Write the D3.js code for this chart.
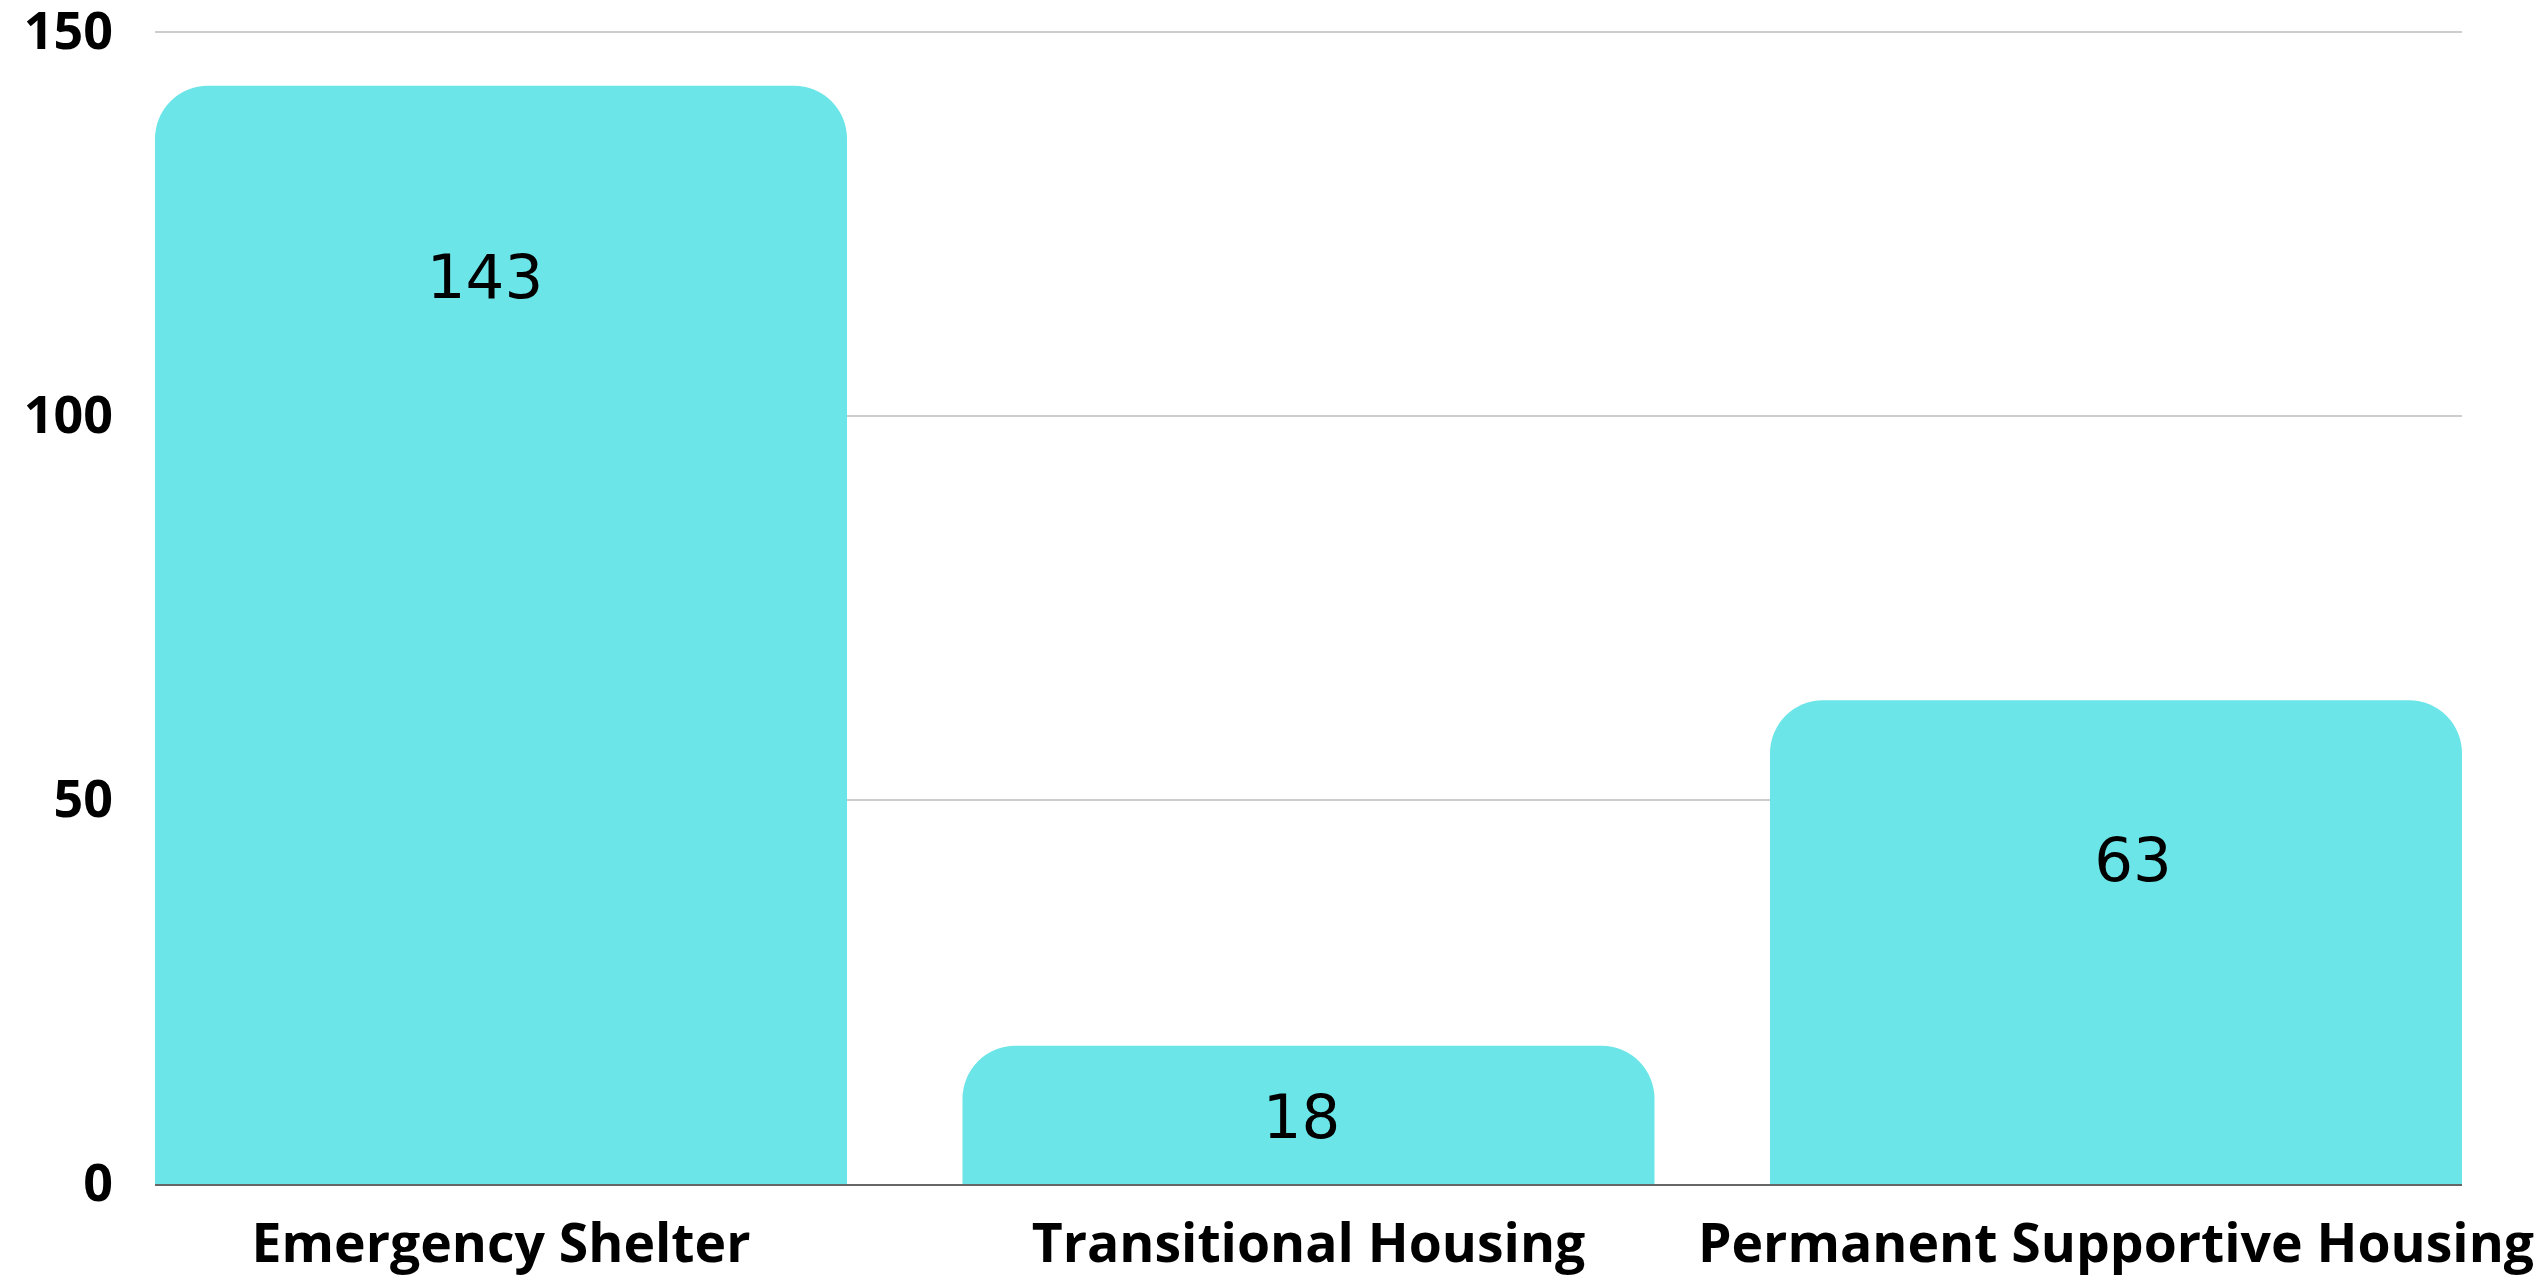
<!DOCTYPE html>
<html>
<head>
<meta charset="utf-8">
<script src="https://cdn.jsdelivr.net/npm/d3@7"></script>
<style>
  body { margin: 0; background: #fff; }
</style>
</head>
<body>
<div id="chart"></div>
<script>
// Chart data
const categories = ["Emergency Shelter", "Transitional Housing", "Permanent Supportive Housing"];
const counts = [143, 18, 63];
const yTicks = [0, 50, 100, 150];

const width = 2546,
      height = 1278;

const margin = { top: 32, right: 84, bottom: 94, left: 155 };

const svg = d3.select("#chart")
  .append("svg")
  .attr("width", width)
  .attr("height", height)
  .style("background", "#fff");

const x = d3.scaleBand()
  .domain(categories)
  .range([margin.left, width - margin.right])
  .paddingInner(0.143)
  .paddingOuter(0);

const y = d3.scaleLinear()
  .domain([0, 150])
  .range([height - margin.bottom, margin.top]);

// Gridlines (drawn first, bars cover them)
svg.append("g")
  .selectAll("line")
  .data(yTicks.filter(t => t > 0))
  .enter()
  .append("line")
  .attr("x1", margin.left)
  .attr("x2", width - margin.right)
  .attr("y1", d => y(d))
  .attr("y2", d => y(d))
  .attr("stroke", "#bdbdbd")
  .attr("stroke-width", 1.5);

// Y axis labels
const yAxis = svg.append("g")
  .attr("transform", `translate(${margin.left}, 0)`)
  .call(d3.axisLeft(y).tickValues(yTicks).tickSize(0).tickPadding(42));
yAxis.select(".domain").remove();
yAxis.selectAll("text")
  .attr("font-family", "'Open Sans', sans-serif")
  .attr("font-weight", "bold")
  .attr("font-size", 52)
  .attr("fill", "#000");

// Rounded-top bar path
const radius = 53;
function topRounded(x0, y0, w, h, r) {
  r = Math.min(r, w / 2, h);
  return `M${x0},${y0 + h}` +
    `V${y0 + r}` +
    `A${r},${r} 0 0 1 ${x0 + r},${y0}` +
    `H${x0 + w - r}` +
    `A${r},${r} 0 0 1 ${x0 + w},${y0 + r}` +
    `V${y0 + h}Z`;
}

// Zero line
svg.append("line")
  .attr("x1", margin.left)
  .attr("x2", width - margin.right)
  .attr("y1", y(0) + 1)
  .attr("y2", y(0) + 1)
  .attr("stroke", "#666")
  .attr("stroke-width", 2);

// Bars
svg.append("g")
  .selectAll("path")
  .data(categories)
  .enter()
  .append("path")
  .attr("d", (d, i) => topRounded(x(d), y(counts[i]), x.bandwidth(), y(0) - y(counts[i]), radius))
  .attr("fill", "#6be5e8");

// Value labels
const labelDrop = [191, 71, 159];
const labelShift = [-16, -7, 17];
svg.append("g")
  .selectAll("text")
  .data(categories)
  .enter()
  .append("text")
  .attr("x", (d, i) => x(d) + x.bandwidth() / 2 + labelShift[i])
  .attr("y", (d, i) => y(counts[i]) + labelDrop[i])
  .attr("text-anchor", "middle")
  .attr("dominant-baseline", "central")
  .attr("font-family", "'DejaVu Sans', sans-serif")
  .attr("font-size", 61)
  .attr("fill", "#000")
  .text((d, i) => counts[i]);

// X axis labels
svg.append("g")
  .selectAll("text")
  .data(categories)
  .enter()
  .append("text")
  .attr("x", d => x(d) + x.bandwidth() / 2)
  .attr("y", 1262)
  .attr("text-anchor", "middle")
  .attr("font-family", "'Open Sans', sans-serif")
  .attr("font-weight", "bold")
  .attr("font-size", 53.5)
  .attr("fill", "#000")
  .text(d => d);
</script>
</body>
</html>
